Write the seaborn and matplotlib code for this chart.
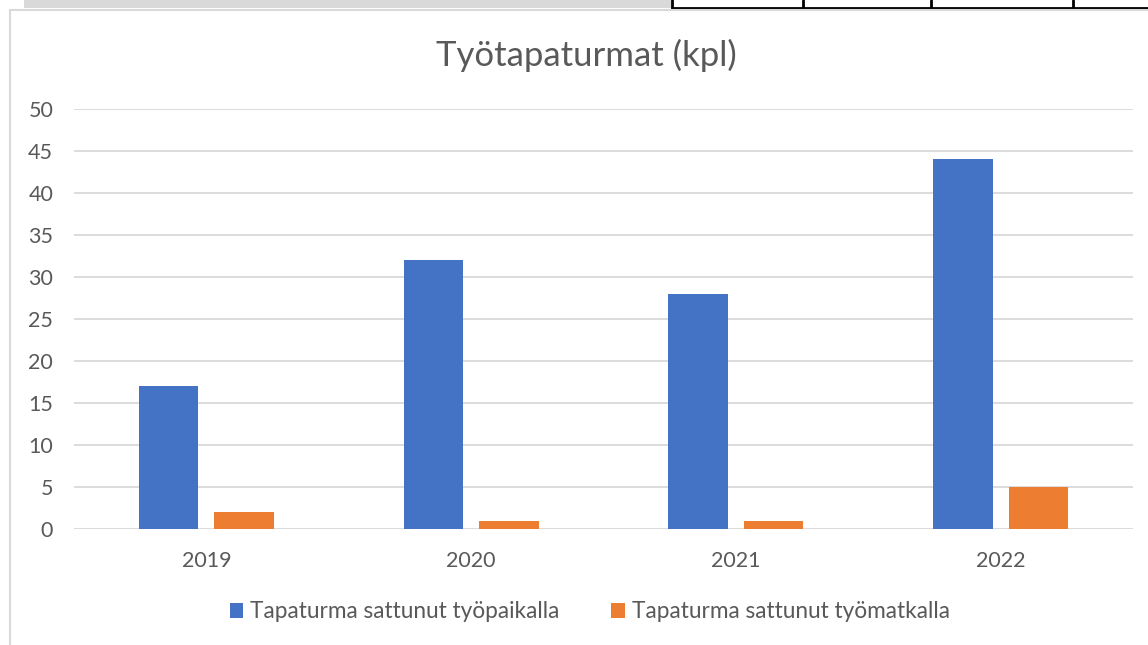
import pandas as pd
import matplotlib.pyplot as plt
import seaborn as sns
from matplotlib.patches import Rectangle
from matplotlib.lines import Line2D

# Data
years = ['2019', '2020', '2021', '2022']
workplace = [17, 32, 28, 44]
commute = [2, 1, 1, 5]
series_names = ['Tapaturma sattunut työpaikalla', 'Tapaturma sattunut työmatkalla']

df = pd.DataFrame({
    'Vuosi': years * 2,
    'Kpl': workplace + commute,
    'Sarja': [series_names[0]] * 4 + [series_names[1]] * 4,
})

sns.set_style('white')
plt.rcParams['font.family'] = ['Lato', 'DejaVu Sans']

W, H = 1148, 645
fig = plt.figure(figsize=(W / 100, H / 100), dpi=100)
ax = fig.add_axes([74 / W, 116 / H, (1133 - 74) / W, (529 - 109) / H])

sns.barplot(data=df, x='Vuosi', y='Kpl', hue='Sarja', ax=ax,
            palette=['#4472C4', '#ED7D31'], width=0.57, gap=0.21,
            saturation=1, errorbar=None, linewidth=0, zorder=3)

ax.set_ylim(0, 50)
ax.set_yticks(range(0, 51, 5))
ax.set_xlim(-0.5, 3.5)
ax.grid(axis='y', color='#d9d9d9', linewidth=1.3, zorder=0)
ax.set_axisbelow(True)
for s in ax.spines.values():
    s.set_visible(False)
ax.tick_params(axis='both', length=0, labelsize=15.5, colors='#595959')
ax.tick_params(axis='x', pad=16)
ax.tick_params(axis='y', pad=15)
ax.set_xlabel('')
ax.set_ylabel('')

handles, labels = ax.get_legend_handles_labels()
ax.legend(handles, labels, loc='center', bbox_to_anchor=(0.487, (645 - 612 - 116) / 420),
          ncol=2, frameon=False, fontsize=16.3, labelcolor='#595959',
          handlelength=0.6, handleheight=0.6, handletextpad=0.3, columnspacing=2.3)

fig.text(586 / W, 1 - 55 / H, 'Työtapaturmat (kpl)', ha='center', va='center',
         fontsize=25, color='#595959')

# spreadsheet remnants around the chart
fig.add_artist(Rectangle((24 / W, 1 - 8 / H), (672 - 24) / W, 8 / H,
                         transform=fig.transFigure, color='#d9d9d9', lw=0))
fig.add_artist(Line2D([672 / W, 1], [1 - 8 / H, 1 - 8 / H], transform=fig.transFigure,
                      color='black', lw=2))
for xv in [672, 803, 931, 1073]:
    fig.add_artist(Line2D([xv / W, xv / W], [1 - 8 / H, 1], transform=fig.transFigure,
                          color='black', lw=2))
fig.add_artist(Line2D([10 / W, 10 / W, 1], [0, 1 - 10 / H, 1 - 10 / H],
                      transform=fig.transFigure, color='#d9d9d9', lw=1.5))

fig.savefig('out.png', dpi=100)
